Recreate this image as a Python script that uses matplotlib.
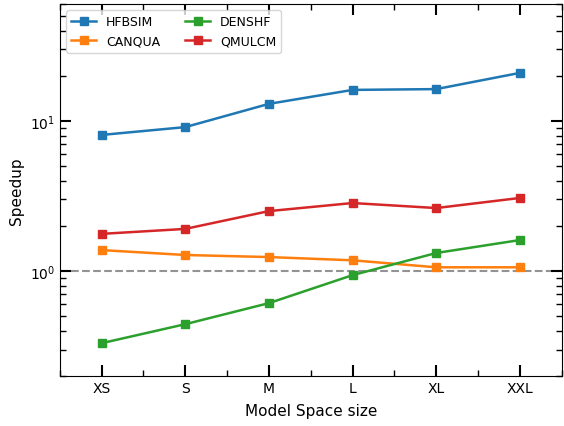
import matplotlib
matplotlib.use("Agg")
import matplotlib.pyplot as plt

sizes = ["XS", "S", "M", "L", "XL", "XXL"]
hfbsim = [8.07, 9.1, 13.0, 16.1, 16.3, 20.9]
canqua = [1.38, 1.28, 1.24, 1.18, 1.06, 1.06]
denshf = [0.331, 0.443, 0.612, 0.94, 1.32, 1.61]
qmulcm = [1.77, 1.91, 2.51, 2.84, 2.63, 3.07]

fig = plt.figure(figsize=(5.64, 4.27), dpi=100)
ax = fig.add_axes([0.106, 0.117, 0.89, 0.871])

x = range(len(sizes))
ax.plot(x, hfbsim, marker="s", lw=1.8, color="tab:blue", label="HFBSIM")
ax.plot(x, canqua, marker="s", lw=1.8, color="tab:orange", label="CANQUA")
ax.plot(x, denshf, marker="s", lw=1.8, color="tab:green", label="DENSHF")
ax.plot(x, qmulcm, marker="s", lw=1.8, color="tab:red", label="QMULCM")
# reference line at speedup = 1
ax.axhline(1.0, color="gray", alpha=0.85, linestyle="--", zorder=0)

ax.set_yscale("log")
ax.set_ylim(0.2, 60)
ax.set_xlim(-0.5, 5.5)
ax.set_xticks(list(x))
ax.set_xticklabels(sizes)
ax.set_xticks([i + 0.5 for i in range(-1, 6)], minor=True)

ax.tick_params(which="both", direction="in", top=True, right=True)
ax.tick_params(which="major", length=8, width=1.5)
ax.tick_params(which="minor", length=4, width=1)

ax.set_xlabel("Model Space size", fontsize=11, labelpad=6)
ax.set_ylabel("Speedup", fontsize=11)
ax.legend(loc="upper left", ncol=2, fontsize=9)

fig.savefig("out.png", dpi=100)
